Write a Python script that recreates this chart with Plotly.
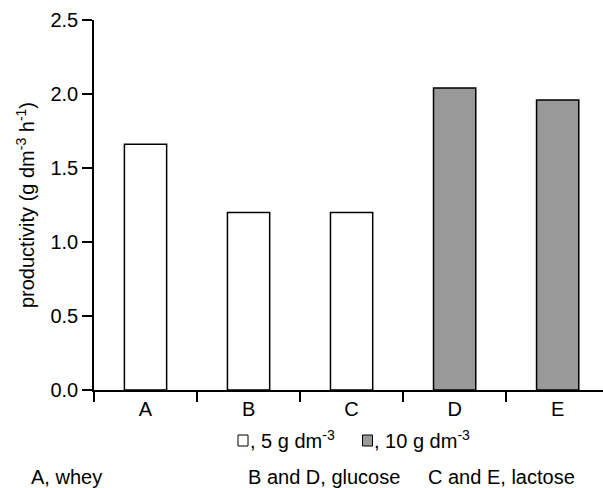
import plotly.graph_objects as go

categories = ["A", "B", "C", "D", "E"]
productivity = [1.66, 1.20, 1.20, 2.04, 1.96]
fill_colors = ["white", "white", "white", "#999999", "#999999"]
y_ticks = [0.0, 0.5, 1.0, 1.5, 2.0, 2.5]

FONT = "Liberation Sans"
FS = 20
FA = 20
W, H = 603, 488
L, R, T, B = 94, 0, 20, 98
pw, ph = W - L - R, H - T - B

def px(x):
    return (x - L) / pw

def py(y):
    return (H - B - y) / ph

fig = go.Figure()
fig.add_trace(go.Bar(
    x=categories, y=productivity, width=0.41,
    marker=dict(color=fill_colors, line=dict(color="black", width=1.5)),
    showlegend=False,
))

fig.update_layout(
    width=W, height=H,
    margin=dict(l=L, r=R, t=T, b=B),
    paper_bgcolor="white", plot_bgcolor="white",
    font=dict(family=FONT, size=FS, color="black"),
    xaxis=dict(
        type="category", range=[-0.5, 4.44],
        showline=True, linecolor="black", linewidth=1.5,
        ticks="outside", ticklen=10, tickwidth=1.5, tickcolor="black",
        tickson="boundaries", showgrid=False, zeroline=False,
        tickfont=dict(family=FONT, size=FS),
    ),
    yaxis=dict(
        range=[0, 2.5], tickvals=y_ticks, tickformat=".1f",
        showline=True, linecolor="black", linewidth=1.5,
        ticks="outside", ticklen=10, tickwidth=1.5, tickcolor="black",
        showgrid=False, zeroline=False,
        tickfont=dict(family=FONT, size=FS),
        title=dict(text="productivity (g dm<sup>-3</sup> h<sup>-1</sup>)",
                   font=dict(family=FONT, size=FA), standoff=10),
    ),
)

# legend row
fig.add_shape(type="rect", xref="paper", yref="paper",
              x0=px(238), x1=px(248), y0=py(446), y1=py(435),
              line=dict(color="black", width=1), fillcolor="white")
fig.add_shape(type="rect", xref="paper", yref="paper",
              x0=px(362.5), x1=px(372.5), y0=py(446), y1=py(435),
              line=dict(color="black", width=1), fillcolor="#999999")
fig.add_annotation(xref="paper", yref="paper", x=px(247.5), y=py(439),
                   text=", 5 g dm<sup>-3</sup>", showarrow=False,
                   xanchor="left", yanchor="middle",
                   font=dict(family=FONT, size=FA))
fig.add_annotation(xref="paper", yref="paper", x=px(372), y=py(439),
                   text=", 10 g dm<sup>-3</sup>", showarrow=False,
                   xanchor="left", yanchor="middle",
                   font=dict(family=FONT, size=FA))

# footnote row
for txt, xl in [("A, whey", 29), ("B and D, glucose", 246), ("C and E, lactose", 426)]:
    fig.add_annotation(xref="paper", yref="paper", x=px(xl), y=py(477),
                       text=txt, showarrow=False, xanchor="left",
                       yanchor="middle", font=dict(family=FONT, size=FA))

fig.write_html("out.html")
